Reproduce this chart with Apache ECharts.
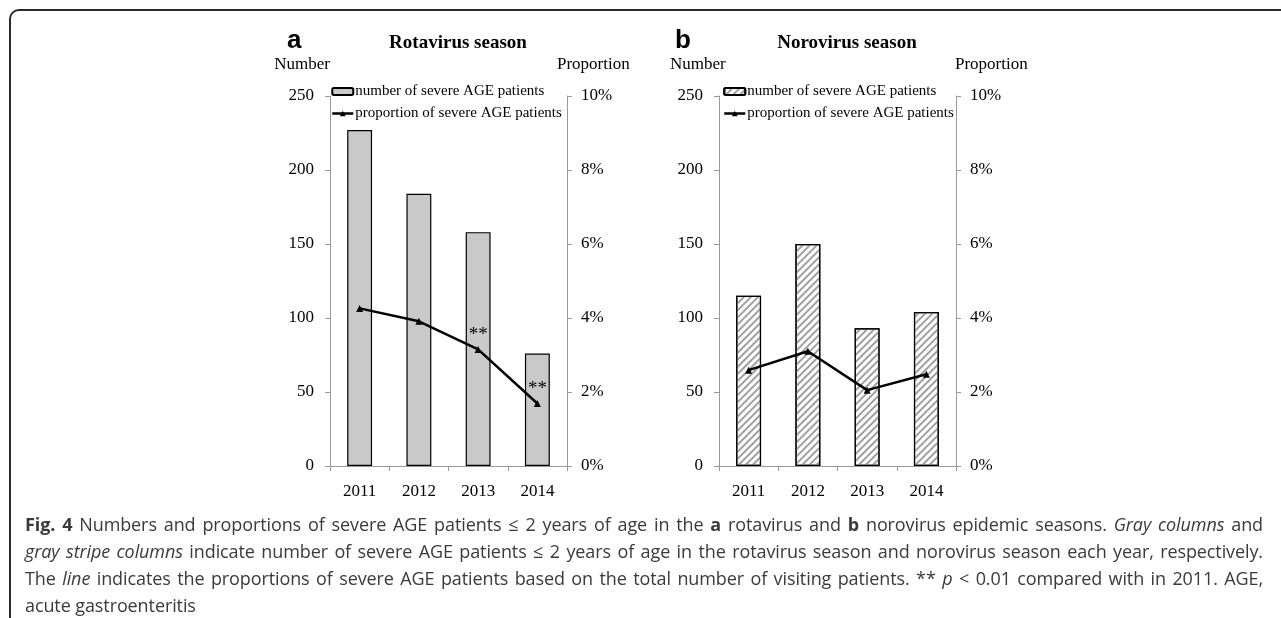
<!DOCTYPE html>
<html>
<head>
<meta charset="utf-8">
<script src="https://cdn.jsdelivr.net/npm/echarts@6/dist/echarts.min.js"></script>
<style>
html, body { margin:0; padding:0; background:#fff; }
#wrap { position:relative; width:1281px; height:618px; overflow:hidden; }
#main { position:absolute; left:0; top:0; width:1281px; height:618px; }
#frame { position:absolute; left:9px; top:9px; width:1400px; height:700px;
  border-left:2px solid #2a2a2a; border-top:2px solid #2a2a2a; border-top-left-radius:10px; }
#caption { position:absolute; left:25px; top:511px; width:1238px;
  font-family:"Open Sans", "Noto Sans", sans-serif; font-size:18px; letter-spacing:-0.1px;
  color:#3a3a3a; line-height:27px; }
#caption .j { text-align:justify; text-align-last:justify; white-space:nowrap; }
</style>
</head>
<body>
<div id="wrap">
  <div id="frame"></div>
  <div id="main"></div>
  <div id="caption">
    <div class="j"><b>Fig. 4</b> Numbers and proportions of severe AGE patients ≤ 2 years of age in the <b>a</b> rotavirus and <b>b</b> norovirus epidemic seasons. <i>Gray columns</i> and</div>
    <div class="j"><i>gray stripe columns</i> indicate number of severe AGE patients ≤ 2 years of age in the rotavirus season and norovirus season each year, respectively.</div>
    <div class="j">The <i>line</i> indicates the proportions of severe AGE patients based on the total number of visiting patients. ** <i>p</i> &lt; 0.01 compared with in 2011. AGE,</div>
    <div>acute gastroenteritis</div>
  </div>
</div>
<script>
// 数据
var years = ['2011', '2012', '2013', '2014'];
var rotaNumber = [227, 184, 158, 76];
var rotaProp = [4.26, 3.91, 3.15, 1.69];
var rotaSig = ['', '', '**', '**'];
var noroNumber = [115, 150, 93, 104];
var noroProp = [2.59, 3.10, 2.05, 2.48];
var numMax = 250, numStep = 50;
var propMax = 10, propStep = 2;
var legendText = {
	numA: 'number of severe AGE patients',
	propA: 'proportion of severe AGE patients',
	numB: 'number of severe AGE patients',
	propB: 'proportion of severe AGE patients'
};

var serif = '"Liberation Serif", "Times New Roman", serif';
var chart = echarts.init(document.getElementById('main'));

function xAxisOpt(gridIndex){
	return {
		type: 'category',
		gridIndex: gridIndex,
		data: years,
		boundaryGap: true,
		axisLine: { show: true, lineStyle: { color: '#999', width: 1 } },
		axisTick: { show: true, length: 5, alignWithLabel: false, lineStyle: { color: '#999' } },
		axisLabel: { margin: 17, fontSize: 17, fontFamily: serif, color: '#000' },
		splitLine: { show: false }
	};
}
function yLeftOpt(gridIndex){
	return {
		type: 'value',
		gridIndex: gridIndex,
		position: 'left',
		min: 0, max: numMax, interval: numStep,
		axisLine: { show: true, lineStyle: { color: '#999', width: 1 } },
		axisTick: { show: true, length: 5, lineStyle: { color: '#999' } },
		axisLabel: { margin: 16, fontSize: 17, fontFamily: serif, color: '#000' },
		splitLine: { show: false }
	};
}
function yRightOpt(gridIndex){
	return {
		type: 'value',
		gridIndex: gridIndex,
		position: 'right',
		min: 0, max: propMax, interval: propStep,
		axisLine: { show: true, lineStyle: { color: '#999', width: 1 } },
		axisTick: { show: true, length: 5, lineStyle: { color: '#999' } },
		axisLabel: { margin: 14, fontSize: 17, fontFamily: serif, color: '#000', formatter: '{value}%' },
		splitLine: { show: false }
	};
}
function legendOpt(left, names){
	return {
		orient: 'vertical',
		left: left,
		top: 84,
		padding: 0,
		itemWidth: 21,
		itemHeight: 7,
		itemGap: 7,
		selectedMode: false,
		lineStyle: { width: 2.5, color: '#000' },
		data: names,
		formatter: function(name){ return legendText[name]; },
		textStyle: { fontSize: 15, fontFamily: serif, color: '#000', padding: [0, 0, 0, -3] }
	};
}
function headText(x, y, txt, font, align){
	return {
		type: 'text', x: x, y: y, silent: true,
		style: { text: txt, font: font, fill: '#000', align: align, verticalAlign: 'middle' }
	};
}

var hatch = {
	symbol: 'rect',
	symbolSize: 1,
	dashArrayX: [1, 0],
	dashArrayY: [1.2, 3],
	rotation: -Math.PI / 4,
	color: '#a0a0a0'
};

var option = {
	animation: false,
	grid: [
		{ left: 330, top: 96, width: 237, height: 370 },
		{ left: 719, top: 96, width: 237, height: 370 }
	],
	xAxis: [xAxisOpt(0), xAxisOpt(1)],
	yAxis: [yLeftOpt(0), yRightOpt(0), yLeftOpt(1), yRightOpt(1)],
	legend: [legendOpt(331, ['numA', 'propA']), legendOpt(723, ['numB', 'propB'])],
	graphic: [
		headText(287, 41, 'a', 'bold 26px "Liberation Sans", Arial, sans-serif', 'left'),
		headText(458, 43, 'Rotavirus season', 'bold 19px ' + serif, 'center'),
		headText(330, 65, 'Number', '17px ' + serif, 'right'),
		headText(557, 65, 'Proportion', '17px ' + serif, 'left'),
		headText(675, 41, 'b', 'bold 26px "Liberation Sans", Arial, sans-serif', 'left'),
		headText(847, 43, 'Norovirus season', 'bold 19px ' + serif, 'center'),
		headText(670, 65, 'Number', '17px ' + serif, 'left'),
		headText(955, 65, 'Proportion', '17px ' + serif, 'left')
	],
	series: [
		{
			name: 'numA', type: 'bar', xAxisIndex: 0, yAxisIndex: 0,
			data: rotaNumber, barWidth: '42%',
			itemStyle: { color: '#c9c9c9', borderColor: '#000', borderWidth: 1.2 }
		},
		{
			name: 'propA', type: 'line', xAxisIndex: 0, yAxisIndex: 1,
			data: rotaProp, symbol: 'triangle', symbolSize: 7,
			itemStyle: { color: '#000' },
			lineStyle: { color: '#000', width: 2.5 },
			label: {
				show: true, position: 'top', distance: 1,
				fontSize: 19, fontFamily: serif, color: '#000',
				formatter: function(p){ return rotaSig[p.dataIndex]; }
			}
		},
		{
			name: 'numB', type: 'bar', xAxisIndex: 1, yAxisIndex: 2,
			data: noroNumber, barWidth: '42%',
			itemStyle: { color: '#fff', borderColor: '#000', borderWidth: 1.2, decal: hatch }
		},
		{
			name: 'propB', type: 'line', xAxisIndex: 1, yAxisIndex: 3,
			data: noroProp, symbol: 'triangle', symbolSize: 7,
			itemStyle: { color: '#000' },
			lineStyle: { color: '#000', width: 2.5 }
		}
	]
};
chart.setOption(option);
</script>
</body>
</html>
